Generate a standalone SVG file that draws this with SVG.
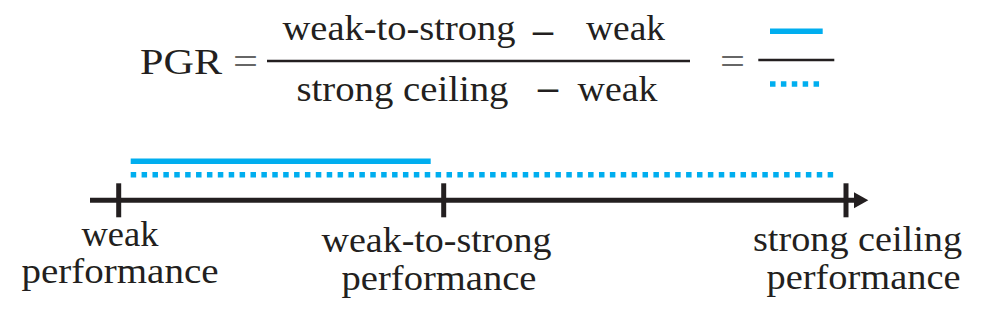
<svg xmlns="http://www.w3.org/2000/svg" width="984" height="315" viewBox="0 0 984 315">
<style>
.t{font-size:36px;fill:#231f20}
.eq{font-size:40px;fill:#666}
.dash{font-size:36px;font-weight:bold;fill:#231f20}
.blue{stroke:#00aeef;stroke-width:5.5;fill:none}
.dot{stroke:#00aeef;stroke-width:5.5;fill:none;stroke-dasharray:5.5 5.39}
.ax{stroke:#231f20;stroke-width:5;fill:none}
</style>
<rect width="984" height="315" fill="#fff"/>
<g font-family="Liberation Serif, DejaVu Serif, serif">
<g id="formula">
  <text class="t" x="140" y="74" textLength="82" lengthAdjust="spacingAndGlyphs" font-size="39">PGR</text>
  <text class="eq" x="233" y="75" textLength="25" lengthAdjust="spacingAndGlyphs">=</text>
  <line x1="267" y1="61" x2="690" y2="61" stroke="#231f20" stroke-width="2.7"/>
  <text class="t" x="282.5" y="39.5" textLength="233" lengthAdjust="spacingAndGlyphs">weak-to-strong</text>
  <text class="dash" x="533" y="41.5" textLength="20" lengthAdjust="spacingAndGlyphs">–</text>
  <text class="t" x="586" y="39.5" textLength="79" lengthAdjust="spacingAndGlyphs">weak</text>
  <text class="t" x="296.5" y="100.7" textLength="212" lengthAdjust="spacingAndGlyphs">strong ceiling</text>
  <text class="dash" x="538" y="98.5" textLength="20" lengthAdjust="spacingAndGlyphs">–</text>
  <text class="t" x="577.5" y="100.7" textLength="80" lengthAdjust="spacingAndGlyphs">weak</text>
  <text class="eq" x="720" y="74.5" textLength="25" lengthAdjust="spacingAndGlyphs">=</text>
  <line x1="770" y1="31.3" x2="822.7" y2="31.3" class="blue"/>
  <line x1="758.3" y1="60" x2="834.3" y2="60" stroke="#231f20" stroke-width="2.7"/>
  <line x1="770" y1="84" x2="822" y2="84" class="dot"/>
</g>
<g id="bars">
  <line x1="130.7" y1="161.2" x2="430.7" y2="161.2" class="blue"/>
  <line x1="130.7" y1="174.8" x2="834" y2="174.8" class="dot"/>
</g>
<g id="axis">
  <line x1="90" y1="200.3" x2="855" y2="200.3" class="ax"/>
  <polygon points="854,192.3 868.3,200.3 854,208.3" fill="#231f20"/>
  <line x1="118.7" y1="183.3" x2="118.7" y2="217.3" class="ax"/>
  <line x1="443.7" y1="183.3" x2="443.7" y2="217.3" class="ax"/>
  <line x1="846" y1="183.3" x2="846" y2="217.3" class="ax"/>
</g>
<g id="label-weak">
  <text class="t" x="81.5" y="245.7" textLength="77" lengthAdjust="spacingAndGlyphs">weak</text>
  <text class="t" x="21.5" y="283.3" textLength="197" lengthAdjust="spacingAndGlyphs">performance</text>
</g>
<g id="label-w2s">
  <text class="t" x="321.5" y="251.7" textLength="230" lengthAdjust="spacingAndGlyphs">weak-to-strong</text>
  <text class="t" x="341.5" y="290" textLength="195" lengthAdjust="spacingAndGlyphs">performance</text>
</g>
<g id="label-ceiling">
  <text class="t" x="753" y="250.7" textLength="209" lengthAdjust="spacingAndGlyphs">strong ceiling</text>
  <text class="t" x="766.5" y="289" textLength="194" lengthAdjust="spacingAndGlyphs">performance</text>
</g>
</g>
</svg>
